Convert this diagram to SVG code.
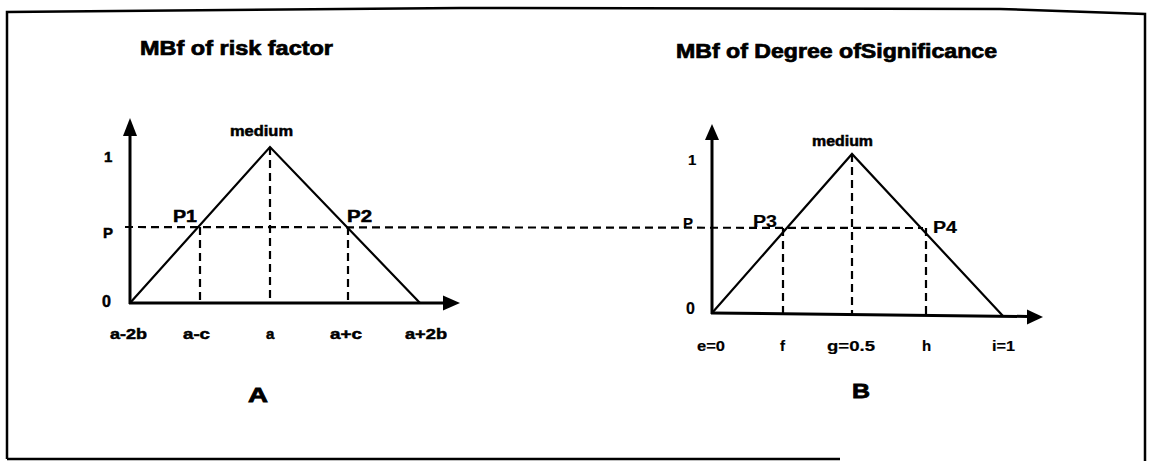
<svg xmlns="http://www.w3.org/2000/svg" width="1149" height="461" viewBox="0 0 1149 461">
<style>
text{font-family:"Liberation Sans",Arial,sans-serif;fill:#000}
.t{font-size:19.5px;font-weight:bold;stroke:#000;stroke-width:0.7}
.l{font-size:15px;font-weight:bold;stroke:#000;stroke-width:0.5}
.r{font-size:15px;font-weight:bold;stroke:#000;stroke-width:0.2}
.m{font-size:14px}
.big{font-size:21px;font-weight:bold;stroke:#000;stroke-width:0.8}
.ax{stroke:#000;stroke-width:3;fill:none}
.tri{stroke:#000;stroke-width:2.2;fill:none;stroke-linejoin:miter}
.dash{stroke:#000;stroke-width:2.2;stroke-dasharray:8 5;fill:none}
.frame{stroke:#000;stroke-width:2.5;fill:none}
</style>
<g id="frame">
<polyline class="frame" points="7,459 7,12 460,8 1000,9 1145,14 1145,461"/>
<line class="frame" x1="7" y1="459" x2="840" y2="459"/>
</g>
<g id="graphA">
<text class="t" x="140" y="55" textLength="193" lengthAdjust="spacingAndGlyphs">MBf of risk factor</text>
<line class="ax" x1="130" y1="304" x2="130" y2="132"/>
<polygon points="130,118 123,136 137,136"/>
<line class="ax" x1="129" y1="303" x2="446" y2="303"/>
<polygon points="460,303 443,295.5 443,310.5"/>
<polyline class="tri" points="130,303 270,147 420,303"/>
<text class="l m" x="230" y="136" textLength="63" lengthAdjust="spacingAndGlyphs">medium</text>
<text class="l" x="104" y="162">1</text>
<text class="l" x="103" y="238">P</text>
<text class="l" x="102" y="307" style="font-size:16px">0</text>
<text class="l" x="173" y="222" style="font-size:16px" textLength="24" lengthAdjust="spacingAndGlyphs">P1</text>
<text class="l" x="347" y="222" style="font-size:16px" textLength="25" lengthAdjust="spacingAndGlyphs">P2</text>
<text class="l" x="110" y="339" textLength="37" lengthAdjust="spacingAndGlyphs">a-2b</text>
<text class="l" x="183" y="339" textLength="27" lengthAdjust="spacingAndGlyphs">a-c</text>
<text class="l" x="266" y="339">a</text>
<text class="l" x="330" y="339" textLength="32" lengthAdjust="spacingAndGlyphs">a+c</text>
<text class="l" x="405" y="339" textLength="42" lengthAdjust="spacingAndGlyphs">a+2b</text>
<text class="big" x="248" y="402" textLength="20" lengthAdjust="spacingAndGlyphs">A</text>
</g>
<g id="graphB">
<text class="t" x="676" y="58" textLength="321" lengthAdjust="spacingAndGlyphs">MBf of Degree ofSignificance</text>
<line class="ax" x1="712" y1="314" x2="712" y2="137"/>
<polygon points="712,124 705,140 719,140"/>
<line class="ax" x1="711" y1="313" x2="1028" y2="316.5"/>
<polygon points="1043,317 1027,309.5 1027,324.5"/>
<polyline class="tri" points="712,313 852,154 1003,316"/>
<text class="l m" x="812" y="146" textLength="61" lengthAdjust="spacingAndGlyphs">medium</text>
<text class="r" x="688" y="165">1</text>
<text class="r" x="683" y="228">P</text>
<text class="r" x="686" y="314" style="font-size:16px">0</text>
<text class="r" x="753" y="227" style="font-size:16px" textLength="24" lengthAdjust="spacingAndGlyphs">P3</text>
<text class="r" x="933" y="233" style="font-size:16px" textLength="24" lengthAdjust="spacingAndGlyphs">P4</text>
<text class="r" x="697" y="351" textLength="28" lengthAdjust="spacingAndGlyphs">e=0</text>
<text class="r" x="780" y="351">f</text>
<text class="r" x="827" y="351" textLength="48" lengthAdjust="spacingAndGlyphs">g=0.5</text>
<text class="r" x="922" y="351">h</text>
<text class="r" x="992" y="351" textLength="23" lengthAdjust="spacingAndGlyphs">i=1</text>
<text class="big" x="852" y="398" textLength="18" lengthAdjust="spacingAndGlyphs">B</text>
</g>
<g id="connectors">
<line class="dash" x1="125" y1="227" x2="923" y2="228"/>
<line class="dash" x1="200" y1="227" x2="200" y2="303"/>
<line class="dash" x1="270" y1="147" x2="270" y2="303"/>
<line class="dash" x1="348" y1="227" x2="348" y2="303"/>
<line class="dash" x1="783" y1="228" x2="783" y2="314"/>
<line class="dash" x1="852" y1="154" x2="852" y2="315"/>
<line class="dash" x1="926" y1="228" x2="926" y2="316"/>
</g>
</svg>
